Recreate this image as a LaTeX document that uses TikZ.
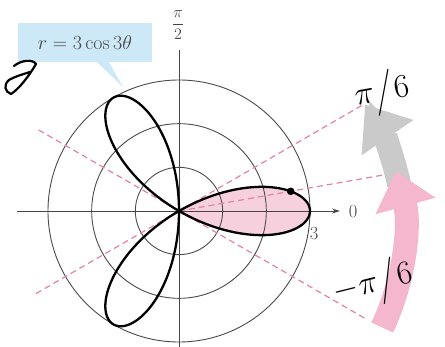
\RequirePackage{fix-cm}
\documentclass[tikz,border=0pt]{standalone}
\usepackage{amsmath}
\usetikzlibrary{arrows.meta}
\definecolor{petal}{RGB}{247,208,222}
\definecolor{pinkarrow}{RGB}{244,183,206}
\definecolor{grayarrow}{RGB}{202,202,202}
\definecolor{dashpink}{RGB}{226,130,166}
\definecolor{calloutblue}{RGB}{205,233,248}
\definecolor{gridgray}{RGB}{75,75,75}
\definecolor{labelgray}{RGB}{70,70,70}
\begin{document}
\begin{tikzpicture}[x=1pt,y=1pt,
  gridline/.style={gridgray, line width=0.9pt},
  axisline/.style={labelgray, line width=0.8pt},
  dashline/.style={dashpink, line width=1.2pt, dash pattern=on 6pt off 4pt},
  roseline/.style={black, line width=2.3pt, line join=round},
  lbl/.style={labelgray, font=\fontsize{18.5}{22}\selectfont, inner sep=0pt},
  hand/.style={black, font=\fontsize{33}{38}\selectfont, inner sep=0pt},
  calloutbox/.style={fill=calloutblue, minimum width=134pt, minimum height=39pt, inner sep=0pt, text=labelgray, font=\fontsize{20}{24}\selectfont},
  bigarrow/.style={line width=24pt}
]
\useasboundingbox (-179,-136) rectangle (266,211);
% shaded petal
\fill[petal] plot[domain=-30:30, samples=61, smooth] ({131*cos(3*\x)*cos(\x)},{131*cos(3*\x)*sin(\x)}) -- cycle;
% polar grid circles
\coordinate (O) at (0,0);
\foreach \r in {1,2,3} \draw[gridline] (O) circle ({\r*131/3});
% axes
\coordinate (xl) at (-162,0);
\coordinate (xr) at (161,0);
\coordinate (yt) at (0,161);
\coordinate (yb) at (0,-140);
\draw[axisline, -{Stealth[length=8pt,width=5pt]}] (xl) -- (xr);
\draw[axisline] (yt) -- (yb);
\node[lbl] (zero) at (174,-1) {0};
\node[lbl] (three) at (135,-23) {3};
\node[lbl, font=\fontsize{16}{19}\selectfont] (halfpi) at (-1,186) {$\dfrac{\pi}{2}$};
% dashed rays
\coordinate (d1a) at (150:162);
\coordinate (d1b) at (-30:217);
\coordinate (d2a) at (210:165);
\coordinate (d2b) at (30:212);
\coordinate (d3b) at (10:217);
\draw[dashline] (d1a) -- (d1b);
\draw[dashline] (d2a) -- (d2b);
\draw[dashline] (O) -- (d3b);
% rose curve
\draw[roseline] plot[domain=0:180, samples=241, smooth] ({131*cos(3*\x)*cos(\x)},{131*cos(3*\x)*sin(\x)}) -- cycle;
\coordinate (pt) at (10:113.4);
\fill (pt) circle (3.8);
% big curved arrows
\coordinate (ac) at (0,-20);
\draw[bigarrow, grayarrow, -{Triangle[width=60pt,length=40pt]}] ([shift={(12:225)}]ac) arc[start angle=12, end angle=34.2, radius=225];
\draw[bigarrow, pinkarrow, -{Triangle[width=60pt,length=36pt]}] ([shift={(-25.4:225)}]ac) arc[start angle=-25.4, end angle=15.4, radius=225];
% callout
\node[calloutbox] (eq) at (-94,168.5) {$r = 3\cos 3\theta$};
\coordinate (ptip) at (-56,124);
\fill[calloutblue] ([xshift=12pt]eq.south) -- (ptip) -- ([xshift=24pt]eq.south) -- cycle;
% handwriting
\node[hand, rotate=10] (pisix) at (203,118) {$\pi\big/6$};
\node[hand, rotate=14] (mpisix) at (194,-73) {$-\pi\big/6$};
\draw[black, line width=2.2pt, line cap=round, line join=round] (-165,145) .. controls (-158,151) and (-146,152) .. (-143,147) .. controls (-150,135) and (-160,122) .. (-168,117) .. controls (-174,119) and (-176,126) .. (-170,131) .. controls (-163,135) and (-155,137) .. (-149,139);
\end{tikzpicture}
\end{document}
